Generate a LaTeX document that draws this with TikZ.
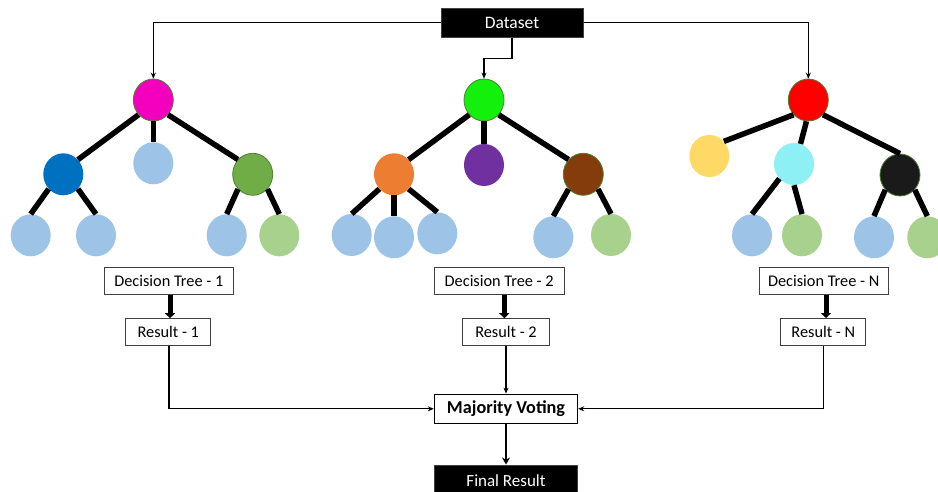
\documentclass[tikz,border=0pt]{standalone}
\usepackage{fontspec}
\setmainfont{Carlito}
\usetikzlibrary{shapes.geometric,arrows.meta}

\definecolor{cmagenta}{HTML}{F200BD}
\definecolor{cbright}{HTML}{12F00C}
\definecolor{cred}{HTML}{FF0000}
\definecolor{cblue}{HTML}{0070C0}
\definecolor{cgreen}{HTML}{70AD47}
\definecolor{clblue}{HTML}{9DC3E6}
\definecolor{clgreen}{HTML}{A9D18E}
\definecolor{corange}{HTML}{ED7D31}
\definecolor{cpurple}{HTML}{7030A0}
\definecolor{cbrown}{HTML}{843C0C}
\definecolor{cyellow}{HTML}{FFD966}
\definecolor{ccyan}{HTML}{8CF0F5}
\definecolor{cblack}{HTML}{1A1A1A}
\definecolor{outline}{HTML}{507E32}
\definecolor{boxgray}{HTML}{404040}

\tikzset{
  bub/.style={ellipse, minimum width=40pt, minimum height=42pt, inner sep=0pt, fill=#1},
  rbub/.style={bub=#1, draw=outline, line width=0.8pt},
  branch/.style={line width=5.5pt},
  lbl/.style={draw=boxgray, line width=1pt, fill=white, inner sep=0pt,
    minimum height=27pt, font=\fontsize{16.3}{19}\selectfont},
  darkbox/.style={draw=boxgray, line width=1pt, fill=black, text=white, inner sep=0pt},
  link/.style={line width=1.2pt, -{Stealth[length=6pt,width=5pt]}},
  fat/.style={line width=5pt, -{Triangle[length=5pt,width=10pt]}},
}

\begin{document}
\begin{tikzpicture}[x=1pt, y=-1pt]
\useasboundingbox (0,0) rectangle (938,492);

% input data
\node[darkbox, minimum width=142pt, minimum height=29pt, font=\fontsize{17.5}{21}\selectfont]
  (ds) at (512,22.6) {Dataset};

% ---- tree 1
\node[rbub=cmagenta] (r1) at (153.3,100) {};
\node[bub=cblue] (a1) at (63.3,174.3) {};
\node[bub=clblue] (b1) at (153.3,163.3) {};
\node[rbub=cgreen] (c1) at (252.7,174.3) {};
\node[bub=clblue] (a1l) at (30.7,235.3) {};
\node[bub=clblue] (a1r) at (96,235.3) {};
\node[bub=clblue] (c1l) at (226.7,235.3) {};
\node[bub=clgreen] (c1r) at (279.3,235.3) {};
\draw[branch] (r1.225) -- (a1.45);
\draw[branch] (r1.south) -- (b1.north);
\draw[branch] (r1.-45) -- (c1.135);
\draw[branch] (a1.225) -- (a1l.north);
\draw[branch] (a1.-45) -- (a1r.north);
\draw[branch] (c1.225) -- (c1l.north);
\draw[branch] (c1.-45) -- (c1r.north);

% ---- tree 2
\node[rbub=cbright] (r2) at (484,100) {};
\node[bub=corange] (a2) at (394,174.3) {};
\node[bub=cpurple] (b2) at (484,165) {};
\node[rbub=cbrown] (c2) at (583.3,174.3) {};
\node[bub=clblue] (a2l) at (351.7,235) {};
\node[bub=clblue] (a2m) at (394,237.3) {};
\node[bub=clblue] (a2r) at (437.3,233.3) {};
\node[bub=clblue] (c2l) at (553.3,237.3) {};
\node[bub=clgreen] (c2r) at (611,235) {};
\draw[branch] (r2.225) -- (a2.45);
\draw[branch] (r2.south) -- (b2.north);
\draw[branch] (r2.-45) -- (c2.135);
\draw[branch] (a2.225) -- (a2l.north);
\draw[branch] (a2.south) -- (a2m.north);
\draw[branch] (a2.-45) -- (a2r.north);
\draw[branch] (c2.225) -- (c2l.north);
\draw[branch] (c2.-45) -- (c2r.north);

% ---- tree N
\node[rbub=cred] (r3) at (808.3,100) {};
\node[bub=cyellow] (a3) at (709.3,156) {};
\node[bub=ccyan] (b3) at (794,164) {};
\node[rbub=cblack] (c3) at (900,175) {};
\node[bub=clblue] (b3l) at (752,235.3) {};
\node[bub=clgreen] (b3r) at (802,235.3) {};
\node[bub=clblue] (c3l) at (874,237.3) {};
\node[bub=clgreen] (c3r) at (927.3,237.3) {};
\draw[branch] (r3.225) -- (a3.45);
\draw[branch] (r3.-95) -- (b3.72);
\draw[branch] (r3.-45) -- (c3.north);
\draw[branch] (b3.225) -- (b3l.north);
\draw[branch] (b3.south) -- (b3r.north);
\draw[branch] (c3.225) -- (c3l.north);
\draw[branch] (c3.-45) -- (c3r.north);

% dataset feeds every tree
\coordinate (bend) at (512,58.3);
\draw[link] (ds.west) -| (r1.north);
\draw[link] (ds.east) -| (r3.north);
\draw[link] (ds.south) -- (ds.south |- bend) -| (r2.north);

% tree labels and results
\node[lbl, minimum width=129pt] (dt1) at (168.8,280.8) {Decision Tree - 1};
\node[lbl, minimum width=85pt] (res1) at (168.3,332.2) {Result - 1};
\node[lbl, minimum width=130pt] (dt2) at (499.2,280.8) {Decision Tree - 2};
\node[lbl, minimum width=87pt] (res2) at (506,332.2) {Result - 2};
\node[lbl, minimum width=129pt] (dt3) at (823.7,281) {Decision Tree - N};
\node[lbl, minimum width=85pt] (res3) at (823.3,332) {Result - N};

\draw[fat] (dt1.south -| 170,0) -- (res1.north -| 170,0);
\draw[fat] (dt2.south -| 504.3,0) -- (res2.north -| 504.3,0);
\draw[fat] (dt3.south -| 826,0) -- (res3.north -| 826,0);

% voting and final output
\node[draw=black, line width=1.4pt, fill=white, inner sep=0pt, minimum width=143pt,
  minimum height=29pt, font=\bfseries\fontsize{18.2}{21}\selectfont] (mv) at (506,408.8) {Majority Voting};
\node[darkbox, minimum width=143pt, minimum height=32pt, font=\fontsize{17}{20}\selectfont]
  (fin) at (506,481) {Final Result};

\draw[link] (res1.south -| 169,0) |- (mv.west);
\draw[link] (res2.south) -- (mv.north);
\draw[link] (res3.south) |- (mv.east);
\draw[line width=2.2pt, -{Stealth[length=7pt,width=8pt]}] (mv.south) -- (fin.north);
\end{tikzpicture}
\end{document}
